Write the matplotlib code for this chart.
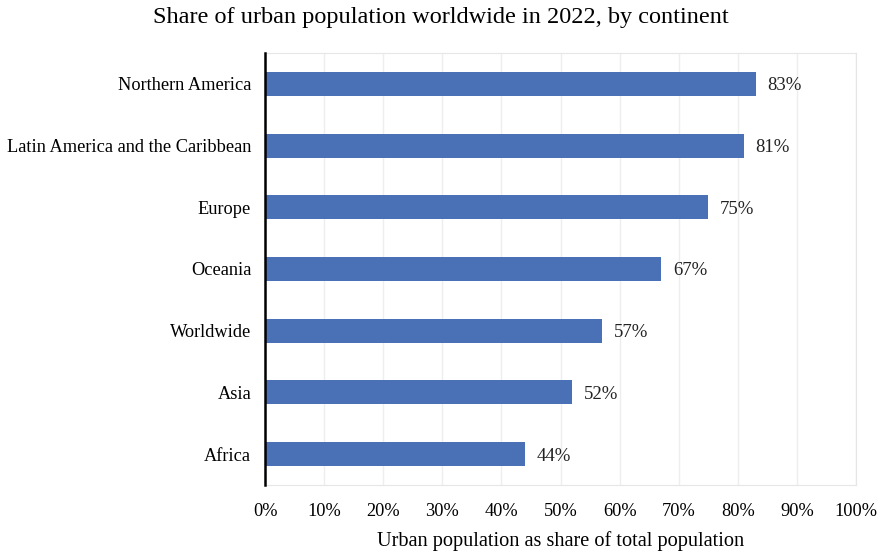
import matplotlib.pyplot as plt

plt.rcParams['font.family'] = ['Liberation Serif', 'DejaVu Serif']

regions = ['Northern America', 'Latin America and the Caribbean', 'Europe',
           'Oceania', 'Worldwide', 'Asia', 'Africa']
urban_share = [83, 81, 75, 67, 57, 52, 44]
x_ticks = [0, 10, 20, 30, 40, 50, 60, 70, 80, 90, 100]

fig = plt.figure(figsize=(8.82, 5.51), dpi=100)
ax = fig.add_axes([0.3005, 0.1198, 0.6700, 0.7840])

pos = list(range(len(regions)))[::-1]
ax.barh(pos, urban_share, height=0.39, color='#4a70b5', zorder=3)
for y, v in zip(pos, urban_share):
    ax.text(v + 2.0, y, f'{v}%', va='center_baseline', ha='left',
            fontsize=13.5, color='#222222')

ax.set_xlim(0, 100)
ax.set_ylim(-0.5, len(regions) - 0.5)
ax.set_yticks(pos)
ax.set_yticklabels(regions, fontsize=13.2)
ax.set_xticks(x_ticks)
ax.set_xticklabels([f'{t}%' for t in x_ticks], fontsize=13.2)
ax.tick_params(axis='x', length=0, pad=13)
ax.tick_params(axis='y', length=0, pad=10)

ax.grid(axis='x', color='#eeeeee', linewidth=1, zorder=0)
for s in ['top', 'right', 'bottom']:
    ax.spines[s].set_color('#e6e6e6')
ax.spines['left'].set_color('black')
ax.spines['left'].set_linewidth(1.8)
ax.spines['left'].set_zorder(4)

ax.set_xlabel('Urban population as share of total population', fontsize=14.6, labelpad=8)
fig.suptitle('Share of urban population worldwide in 2022, by continent',
             fontsize=17.5, y=0.988)

fig.savefig('out.png', dpi=100)
